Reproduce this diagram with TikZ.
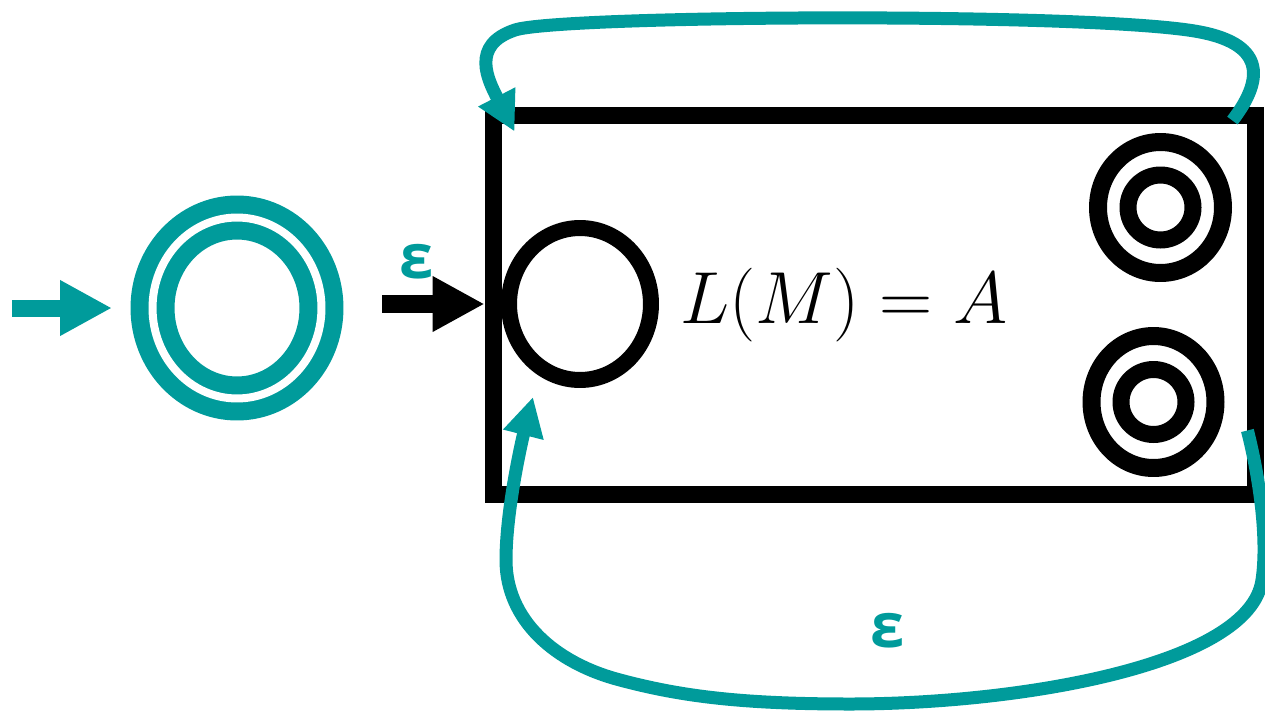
\RequirePackage{fix-cm}
\documentclass[tikz,border=0pt]{standalone}
\usepackage{amsmath}
\usepackage{fontspec}
\newfontfamily\epsfont{Open Sans}
\usetikzlibrary{arrows.meta,shapes.geometric,positioning,calc}
\definecolor{nfateal}{RGB}{0,155,155}

\begin{document}
\begin{tikzpicture}[x=0.02cm, y=-0.02cm,
  tealstate/.style={draw=nfateal, ellipse, double, line width=0.36cm,
                    double distance=0.16cm, inner sep=0pt,
                    minimum width=3.38cm, minimum height=3.62cm},
  blackstate/.style={draw, ellipse, inner sep=0pt, line width=#1},
  ring/.style={draw, circle, inner sep=0pt, line width=0.34cm, minimum size=1.3cm},
  bigarrow/.style={line width=#1, -{Triangle[length=1.04cm, width=1.04cm]}},
  loopline/.style={draw=nfateal, line width=0.26cm,
                   -{Triangle[length=0.78cm, width=0.78cm]}},
  epslabel/.style={text=nfateal, font=\epsfont\bfseries\fontsize{35}{35}\selectfont}]

  \useasboundingbox (0,0) rectangle (1265,714);

  % new start state
  \node[tealstate] (q0) at (237,308) {};

  % machine M
  \node[draw, line width=0.34cm, inner sep=0pt,
        minimum width=15.26cm, minimum height=7.6cm] (box) at (874.5,305) {};
  \node[blackstate=0.32cm, minimum width=2.84cm, minimum height=3.04cm] (q1) at (580,304) {};
  \node[blackstate=0.36cm, minimum width=2.5cm, minimum height=2.62cm] (f1) at (1160.5,207.5) {};
  \node[ring] (f1in) at (f1) {};
  \node[blackstate=0.36cm, minimum width=2.48cm, minimum height=2.64cm] (f2) at (1153.5,402) {};
  \node[ring] (f2in) at (f2) {};
  \node[anchor=base, font=\fontsize{42}{42}\selectfont] (lang) at (844,323) {$L(M) = A$};

  \coordinate (in0) at (12,308);
  \coordinate (in1) at (382,304);
  \draw[bigarrow=0.34cm, nfateal, shorten >=0.63cm] (in0) -- (q0.west);
  \draw[bigarrow=0.36cm] (in1) -- (in1 -| box.west);
  \node[epslabel] (eps1) at (417,262) {ε};

  % epsilon loops back to the old start state
  \coordinate (topfrom) at ($(box.north east)+(-32,14)$);
  \coordinate (topto) at ($(box.north west)+(30,25)$);
  \draw[loopline] (topfrom) .. controls (1262,82) and (1268,45) .. (1200,32)
    .. controls (1098,12) and (560,15) .. (515,30)
    .. controls (470,45) and (488,80) .. (topto);

  \coordinate (botfrom) at ($(box.south east)+(-17,-73)$);
  \coordinate (botto) at ($(q1.south)+(-47,9)$);
  \draw[loopline] (botfrom) .. controls (1260,480) and (1268,540) .. (1262,580)
    .. controls (1250,665) and (1020,704) .. (850,704)
    .. controls (740,704) and (680,696) .. (620,680)
    .. controls (555,663) and (506,620) .. (506,560)
    .. controls (506,510) and (522,440) .. (botto);
  \node[epslabel] (eps2) at (888,631) {ε};

\end{tikzpicture}
\end{document}
